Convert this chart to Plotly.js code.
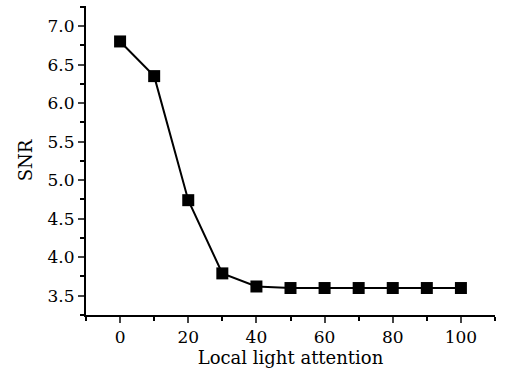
<!DOCTYPE html>
<html><head><meta charset="utf-8">
<script src="https://cdn.plot.ly/plotly-3.0.1.min.js"></script>
<style>body{margin:0;background:#fff}#c{width:506px;height:370px}</style>
</head><body><div id="c"></div>
<script>
const attention = [0, 10, 20, 30, 40, 50, 60, 70, 80, 90, 100];
const snr = [6.8, 6.35, 4.74, 3.79, 3.62, 3.6, 3.6, 3.6, 3.6, 3.6, 3.6];
const xTicks = [0, 20, 40, 60, 80, 100];
const yTicks = [3.5, 4.0, 4.5, 5.0, 5.5, 6.0, 6.5, 7.0];
const yTickText = ['3.5','4.0','4.5','5.0','5.5','6.0','6.5','7.0'];

const family = '"DejaVu Serif", "Liberation Serif", serif';
const tickFont = {family: family, size: 17, color: '#000'};
const titleFont = {family: family, size: 18, color: '#000'};
Plotly.newPlot('c', [{
  x: attention, y: snr, type: 'scatter', mode: 'lines+markers',
  line: {color: '#000', width: 2},
  marker: {symbol: 'square', size: 12, color: '#000'}
}], {
  width: 506, height: 370,
  margin: {l: 86, r: 11, t: 6, b: 55},
  paper_bgcolor: '#fff', plot_bgcolor: '#fff',
  showlegend: false,
  font: tickFont,
  xaxis: {
    range: [-10, 110], tickvals: xTicks, ticks: 'outside', ticklen: 6, tickwidth: 2,
    showline: true, linewidth: 2, linecolor: '#000', showgrid: false, zeroline: false,
    tickfont: tickFont,
    minor: {dtick: 10, tick0: 0, ticks: 'outside', ticklen: 4, tickwidth: 2, tickcolor: '#000', showgrid: false},
    title: {text: 'Local light attention', font: titleFont, standoff: 0}
  },
  yaxis: {
    range: [3.25, 7.26], tickvals: yTicks, ticktext: yTickText, ticks: 'outside', ticklen: 6, tickwidth: 2,
    showline: true, linewidth: 2, linecolor: '#000', showgrid: false, zeroline: false,
    tickfont: tickFont,
    minor: {dtick: 0.25, tick0: 3.25, ticks: 'outside', ticklen: 4, tickwidth: 2, tickcolor: '#000', showgrid: false},
    title: {text: 'SNR', font: titleFont, standoff: 10}
  }
}, {staticPlot: true});
</script></body></html>
